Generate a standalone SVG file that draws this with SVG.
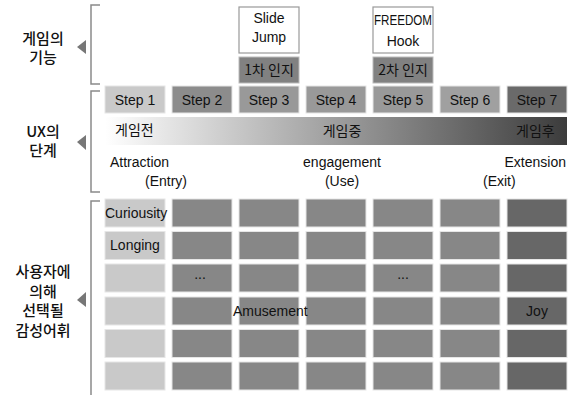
<svg xmlns="http://www.w3.org/2000/svg" width="573" height="396" viewBox="0 0 573 396">
<defs>
<style>
text{font-family:"Liberation Sans",Arial,"Noto Sans CJK KR",sans-serif;fill:#111;font-size:14px}
.k{font-family:"Noto Sans CJK KR","Liberation Sans",sans-serif}
.lab{font-size:15px;text-anchor:middle;font-weight:500}
.m{text-anchor:middle}
.br{fill:none;stroke:#8a8a8a;stroke-width:1.5}
.tri{fill:#777}
.cell{stroke:#e6e6e6;stroke-width:1}
.c1{fill:#c9c9c9}
.c2{fill:#878787}
.c7{fill:#676767}
.box{fill:#fff;stroke:#999;stroke-width:1.2}
.rec{fill:#818181;stroke:#bbb;stroke-width:1}
</style>
<linearGradient id="g" x1="0" y1="0" x2="1" y2="0">
<stop offset="0" stop-color="#ffffff"/>
<stop offset="1" stop-color="#3c3c3c"/>
</linearGradient>
</defs>
<rect width="573" height="396" fill="#fff"/>
<g id="label-function">
<text class="k lab" x="43" y="44">게임의</text>
<text class="k lab" x="43" y="63">기능</text>
</g>
<g id="label-ux">
<text class="k lab" x="43" y="137">UX의</text>
<text class="k lab" x="43" y="156">단계</text>
</g>
<g id="label-emotion">
<text class="k lab" x="43" y="277">사용자에</text>
<text class="k lab" x="43" y="297">의해</text>
<text class="k lab" x="43" y="316">선택될</text>
<text class="k lab" x="43" y="336">감성어휘</text>
</g>
<g id="connectors">
<path class="br" d="M100,5 H91 V84 H100"/>
<path class="br" d="M100,91 H91 V192 H100"/>
<path class="br" d="M100,201 H91 V395"/>
<polygon class="tri" points="77,47 86,40 86,54"/>
<polygon class="tri" points="77,142 86,135 86,150"/>
<polygon class="tri" points="77,300 86,292 86,307"/>
</g>
<g id="functions">
<rect class="box" x="239" y="7" width="60" height="46"/>
<text class="m" x="269" y="23">Slide</text>
<text class="m" x="269" y="42">Jump</text>
<rect class="box" x="373" y="7" width="60" height="46"/>
<text class="m" x="403" y="25" font-size="13" textLength="58" lengthAdjust="spacingAndGlyphs">FREEDOM</text>
<text class="m" x="403" y="46">Hook</text>
<rect class="rec" x="239" y="57" width="60" height="26"/>
<text class="k m" x="269" y="75" font-size="14">1차 인지</text>
<rect class="rec" x="373" y="57" width="60" height="26"/>
<text class="k m" x="403" y="75" font-size="14">2차 인지</text>
</g>
<g id="steps">
<rect class="cell" x="105" y="86" width="60" height="27" fill="#c9c9c9"/>
<rect class="cell" x="172" y="86" width="60" height="27" fill="#8c8c8c"/>
<rect class="cell" x="239" y="86" width="60" height="27" fill="#999"/>
<rect class="cell" x="306" y="86" width="60" height="27" fill="#999"/>
<rect class="cell" x="373" y="86" width="60" height="27" fill="#999"/>
<rect class="cell" x="440" y="86" width="60" height="27" fill="#a0a0a0"/>
<rect class="cell" x="507" y="86" width="60" height="27" fill="#6a6a6a"/>
<text class="m" x="135" y="105">Step 1</text>
<text class="m" x="202" y="105">Step 2</text>
<text class="m" x="269" y="105">Step 3</text>
<text class="m" x="336" y="105">Step 4</text>
<text class="m" x="403" y="105">Step 5</text>
<text class="m" x="470" y="105">Step 6</text>
<text class="m" x="537" y="105">Step 7</text>
</g>
<g id="stages">
<rect x="105" y="117" width="462" height="28" fill="url(#g)"/>
<text class="k" x="115" y="135" font-size="14">게임전</text>
<text class="k m" x="342" y="136" font-size="14">게임중</text>
<text class="k" x="516" y="136" font-size="14">게임후</text>
<text x="110" y="167">Attraction</text>
<text x="145" y="186">(Entry)</text>
<text class="m" x="342" y="167">engagement</text>
<text class="m" x="342" y="186">(Use)</text>
<text x="566" y="167" text-anchor="end">Extension</text>
<text x="483" y="186">(Exit)</text>
</g>
<g id="grid">
<rect class="cell c1" x="105" y="199" width="60" height="28"/><rect class="cell c2" x="172" y="199" width="60" height="28"/><rect class="cell c2" x="239" y="199" width="60" height="28"/><rect class="cell c2" x="306" y="199" width="60" height="28"/><rect class="cell c2" x="373" y="199" width="60" height="28"/><rect class="cell c2" x="440" y="199" width="60" height="28"/><rect class="cell c7" x="507" y="199" width="60" height="28"/>
<rect class="cell c1" x="105" y="231.5" width="60" height="28"/><rect class="cell c2" x="172" y="231.5" width="60" height="28"/><rect class="cell c2" x="239" y="231.5" width="60" height="28"/><rect class="cell c2" x="306" y="231.5" width="60" height="28"/><rect class="cell c2" x="373" y="231.5" width="60" height="28"/><rect class="cell c2" x="440" y="231.5" width="60" height="28"/><rect class="cell c7" x="507" y="231.5" width="60" height="28"/>
<rect class="cell c1" x="105" y="264" width="60" height="28"/><rect class="cell c2" x="172" y="264" width="60" height="28"/><rect class="cell c2" x="239" y="264" width="60" height="28"/><rect class="cell c2" x="306" y="264" width="60" height="28"/><rect class="cell c2" x="373" y="264" width="60" height="28"/><rect class="cell c2" x="440" y="264" width="60" height="28"/><rect class="cell c7" x="507" y="264" width="60" height="28"/>
<rect class="cell c1" x="105" y="297" width="60" height="28"/><rect class="cell c2" x="172" y="297" width="60" height="28"/><rect class="cell c2" x="239" y="297" width="60" height="28"/><rect class="cell c2" x="306" y="297" width="60" height="28"/><rect class="cell c2" x="373" y="297" width="60" height="28"/><rect class="cell c2" x="440" y="297" width="60" height="28"/><rect class="cell c7" x="507" y="297" width="60" height="28"/>
<rect class="cell c1" x="105" y="329.5" width="60" height="28"/><rect class="cell c2" x="172" y="329.5" width="60" height="28"/><rect class="cell c2" x="239" y="329.5" width="60" height="28"/><rect class="cell c2" x="306" y="329.5" width="60" height="28"/><rect class="cell c2" x="373" y="329.5" width="60" height="28"/><rect class="cell c2" x="440" y="329.5" width="60" height="28"/><rect class="cell c7" x="507" y="329.5" width="60" height="28"/>
<rect class="cell c1" x="105" y="362" width="60" height="28"/><rect class="cell c2" x="172" y="362" width="60" height="28"/><rect class="cell c2" x="239" y="362" width="60" height="28"/><rect class="cell c2" x="306" y="362" width="60" height="28"/><rect class="cell c2" x="373" y="362" width="60" height="28"/><rect class="cell c2" x="440" y="362" width="60" height="28"/><rect class="cell c7" x="507" y="362" width="60" height="28"/>
<text x="105" y="218">Curiousity</text>
<text class="m" x="135" y="250">Longing</text>
<text class="m" x="200" y="279" font-size="11">...</text>
<text class="m" x="403" y="279" font-size="11">...</text>
<text x="233" y="316">Amusement</text>
<text class="m" x="537" y="316">Joy</text>
</g>
</svg>
